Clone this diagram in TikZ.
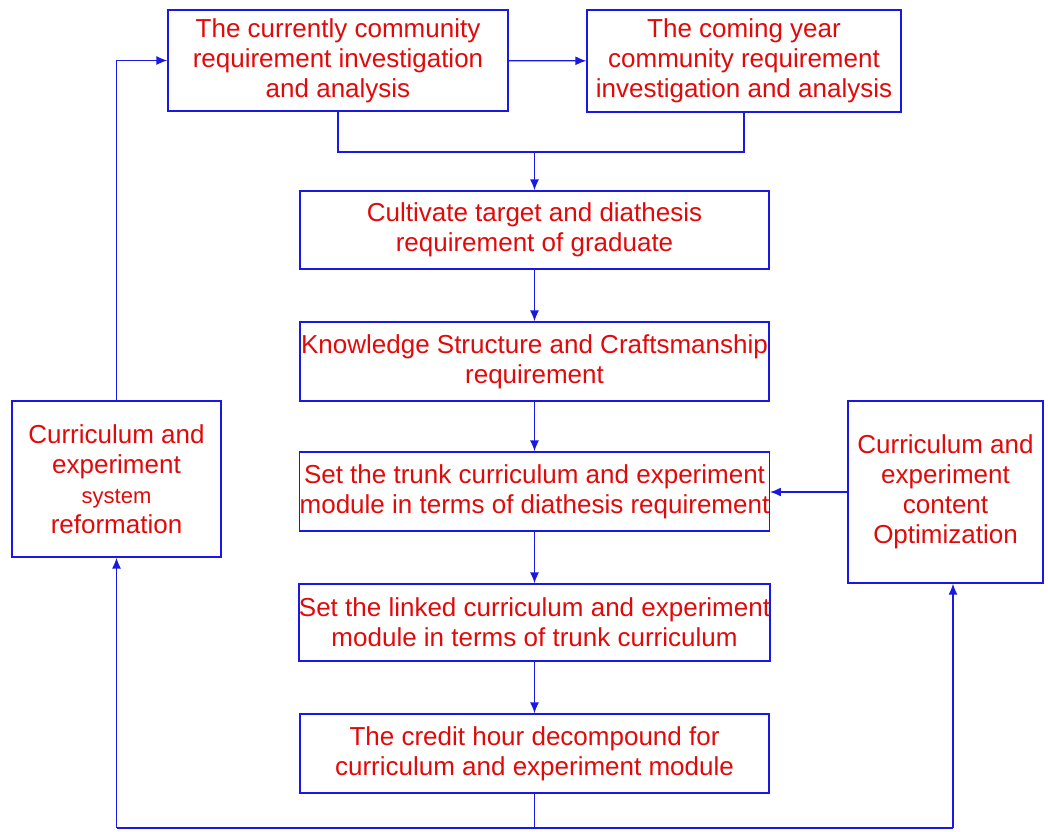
\documentclass[tikz,border=0pt]{standalone}
\usepackage{fontspec}
\setmainfont{Liberation Sans}
\usetikzlibrary{arrows.meta}
\definecolor{boxred}{RGB}{225,10,10}
\definecolor{lineblue}{RGB}{25,25,225}

\begin{document}
\begin{tikzpicture}[x=1pt, y=-1pt,
    box/.style={draw=lineblue, line width=1.3pt, text=boxred, align=center,
      inner sep=0pt, font=\fontsize{26}{30}\selectfont},
    line/.style={draw=lineblue, line width=1.4pt},
    link/.style={line, -{Latex[length=11pt,width=9pt]}}]
    \useasboundingbox (0,0) rectangle (1048,831);
    \node[box, minimum width=340pt, minimum height=101pt] (current) at (338,60.5)
	{The currently community\\requirement investigation\\and analysis};
    \node[box, minimum width=314pt, minimum height=102pt] (coming) at (744,61)
	{The coming year\\community requirement\\investigation and analysis};
    \node[box, minimum width=469pt, minimum height=78pt] (target) at (534.5,230)
	{Cultivate target and diathesis\\requirement of graduate};
    \node[box, minimum width=469pt, minimum height=79pt] (knowledge) at (534.5,361.5)
	{Knowledge Structure and Craftsmanship\\requirement};
    \node[box, minimum width=469pt, minimum height=79pt] (trunk) at (534.5,491.5)
	{Set the trunk curriculum and experiment\\module in terms of diathesis requirement};
    \node[box, minimum width=469pt, minimum height=77pt] (linked) at (534.5,622.5)
	{Set the linked curriculum and experiment\\module in terms of trunk curriculum};
    \node[box, minimum width=469pt, minimum height=79pt] (credit) at (534.5,753.5)
	{The credit hour decompound for\\curriculum and experiment module};
    \node[box, minimum width=209pt, minimum height=156pt] (reform) at (116.5,479)
	{Curriculum and\\experiment\\{\fontsize{22}{30}\selectfont system\hspace{10pt}}\\reformation};
    \node[box, minimum width=195pt, minimum height=182pt] (optim) at (945.5,492)
	{Curriculum and\\experiment\\content\\Optimization};

    \coordinate (join) at (534.5,152);
    \coordinate (lcorner) at (116.5,828);
    \coordinate (rcorner) at (953,828);

    \draw[link] (current) -- (coming);
    \draw[line] (current.south) -- (current.south |- join)
	-- (coming.south |- join) -- (coming.south);
    \draw[link] (join) -- (target.north);
    \draw[link] (target) -- (knowledge);
    \draw[link] (knowledge) -- (trunk);
    \draw[link] (trunk) -- (linked);
    \draw[link] (linked) -- (credit);
    \draw[line] (credit.south) -- (credit.south |- lcorner);
    \draw[line] (lcorner) -- (rcorner);
    \draw[link] (lcorner) -- (reform.south);
    \draw[link] (rcorner) -- (rcorner |- optim.south);
    \draw[link] (reform.north) |- (current.west);
    \draw[link] (optim.west) -- (optim.west -| trunk.east);
\end{tikzpicture}
\end{document}
